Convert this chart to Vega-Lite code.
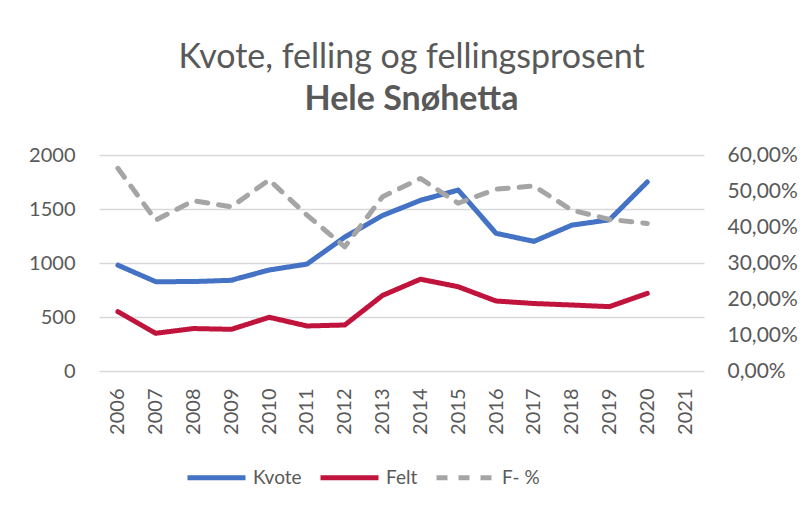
{
  "$schema": "https://vega.github.io/schema/vega-lite/v6.json",
  "width": 605,
  "height": 216,
  "autosize": "none",
  "padding": {"left": 99, "top": 155, "right": 104, "bottom": 135},
  "background": "white",
  "title": {
    "text": "Kvote, felling og fellingsprosent",
    "subtitle": "Hele Snøhetta",
    "anchor": "middle",
    "frame": "group",
    "font": "Lato",
    "fontSize": 34,
    "fontWeight": "normal",
    "color": "#595959",
    "subtitleFont": "Lato",
    "subtitleFontSize": 34,
    "subtitleFontWeight": "bold",
    "subtitleColor": "#595959",
    "subtitlePadding": 8,
    "offset": 27,
    "dx": 10
  },
  "data": {
    "values": [
      {"year": "2006", "series": "Kvote", "value": 980},
      {"year": "2007", "series": "Kvote", "value": 827},
      {"year": "2008", "series": "Kvote", "value": 828},
      {"year": "2009", "series": "Kvote", "value": 840},
      {"year": "2010", "series": "Kvote", "value": 935},
      {"year": "2011", "series": "Kvote", "value": 990},
      {"year": "2012", "series": "Kvote", "value": 1240},
      {"year": "2013", "series": "Kvote", "value": 1440},
      {"year": "2014", "series": "Kvote", "value": 1580},
      {"year": "2015", "series": "Kvote", "value": 1675},
      {"year": "2016", "series": "Kvote", "value": 1275},
      {"year": "2017", "series": "Kvote", "value": 1200},
      {"year": "2018", "series": "Kvote", "value": 1350},
      {"year": "2019", "series": "Kvote", "value": 1400},
      {"year": "2020", "series": "Kvote", "value": 1750},
      {"year": "2006", "series": "Felt", "value": 549},
      {"year": "2007", "series": "Felt", "value": 349},
      {"year": "2008", "series": "Felt", "value": 393},
      {"year": "2009", "series": "Felt", "value": 386},
      {"year": "2010", "series": "Felt", "value": 497},
      {"year": "2011", "series": "Felt", "value": 417},
      {"year": "2012", "series": "Felt", "value": 426},
      {"year": "2013", "series": "Felt", "value": 700},
      {"year": "2014", "series": "Felt", "value": 850},
      {"year": "2015", "series": "Felt", "value": 780},
      {"year": "2016", "series": "Felt", "value": 648},
      {"year": "2017", "series": "Felt", "value": 625},
      {"year": "2018", "series": "Felt", "value": 611},
      {"year": "2019", "series": "Felt", "value": 596},
      {"year": "2020", "series": "Felt", "value": 719},
      {"year": "2006", "series": "F- %", "value": 0.563},
      {"year": "2007", "series": "F- %", "value": 0.419},
      {"year": "2008", "series": "F- %", "value": 0.473},
      {"year": "2009", "series": "F- %", "value": 0.456},
      {"year": "2010", "series": "F- %", "value": 0.531},
      {"year": "2011", "series": "F- %", "value": 0.433},
      {"year": "2012", "series": "F- %", "value": 0.345},
      {"year": "2013", "series": "F- %", "value": 0.484},
      {"year": "2014", "series": "F- %", "value": 0.535},
      {"year": "2015", "series": "F- %", "value": 0.466},
      {"year": "2016", "series": "F- %", "value": 0.505},
      {"year": "2017", "series": "F- %", "value": 0.514},
      {"year": "2018", "series": "F- %", "value": 0.447},
      {"year": "2019", "series": "F- %", "value": 0.421},
      {"year": "2020", "series": "F- %", "value": 0.41}
    ]
  },
  "encoding": {
    "x": {
      "field": "year",
      "type": "ordinal",
      "scale": {
        "type": "point",
        "padding": 0.5,
        "domain": ["2006","2007","2008","2009","2010","2011","2012","2013","2014","2015","2016","2017","2018","2019","2020","2021"]
      },
      "axis": {
        "title": null,
        "labelAngle": 270,
        "labelAlign": "right",
        "labelBaseline": "middle",
        "labelPadding": 17,
        "labelFont": "Lato",
        "labelFontSize": 20,
        "labelColor": "#595959",
        "domain": false,
        "ticks": false,
        "grid": false
      }
    },
    "color": {
      "field": "series",
      "type": "nominal",
      "scale": {"domain": ["Kvote", "Felt", "F- %"], "range": ["#4472C4", "#C0143C", "#A5A5A5"]},
      "legend": {
        "title": null,
        "orient": "none",
        "legendX": 86,
        "legendY": 291,
        "direction": "horizontal",
        "symbolType": "stroke",
        "symbolSize": 3364,
        "symbolStrokeWidth": 5,
        "labelFont": "Lato",
        "labelFontSize": 19,
        "labelColor": "#595959",
        "labelOffset": 5,
        "columnPadding": 8
      }
    },
    "strokeDash": {
      "field": "series",
      "type": "nominal",
      "scale": {"domain": ["Kvote", "Felt", "F- %"], "range": [[1, 0], [1, 0], [11, 11]]},
      "legend": null
    }
  },
  "layer": [
    {
      "transform": [{"filter": "datum.series !== 'F- %'"}],
      "mark": {"type": "line", "strokeWidth": 5, "strokeCap": "round", "strokeJoin": "round"},
      "encoding": {
        "y": {
          "field": "value",
          "type": "quantitative",
          "scale": {"domain": [0, 2000]},
          "axis": {
            "title": null,
            "orient": "left",
            "values": [0, 500, 1000, 1500, 2000],
            "format": "d",
            "labelFont": "Lato",
            "labelFontSize": 20,
            "labelColor": "#595959",
            "labelPadding": 24,
            "ticks": false,
            "domain": false,
            "grid": true,
            "gridColor": "#D9D9D9",
            "gridWidth": 1.5
          }
        }
      }
    },
    {
      "transform": [{"filter": "datum.series === 'F- %'"}],
      "mark": {"type": "line", "strokeWidth": 5, "strokeCap": "round", "strokeJoin": "round"},
      "encoding": {
        "y": {
          "field": "value",
          "type": "quantitative",
          "scale": {"domain": [0, 0.6]},
          "axis": {
            "title": null,
            "orient": "right",
            "values": [0, 0.1, 0.2, 0.3, 0.4, 0.5, 0.6],
            "labelExpr": "replace(format(datum.value, '.2%'), '.', ',')",
            "labelFont": "Lato",
            "labelFontSize": 21,
            "labelColor": "#595959",
            "labelPadding": 23,
            "ticks": false,
            "domain": false,
            "grid": false
          }
        }
      }
    }
  ],
  "resolve": {"scale": {"y": "independent"}},
  "config": {"view": {"stroke": null}}
}
